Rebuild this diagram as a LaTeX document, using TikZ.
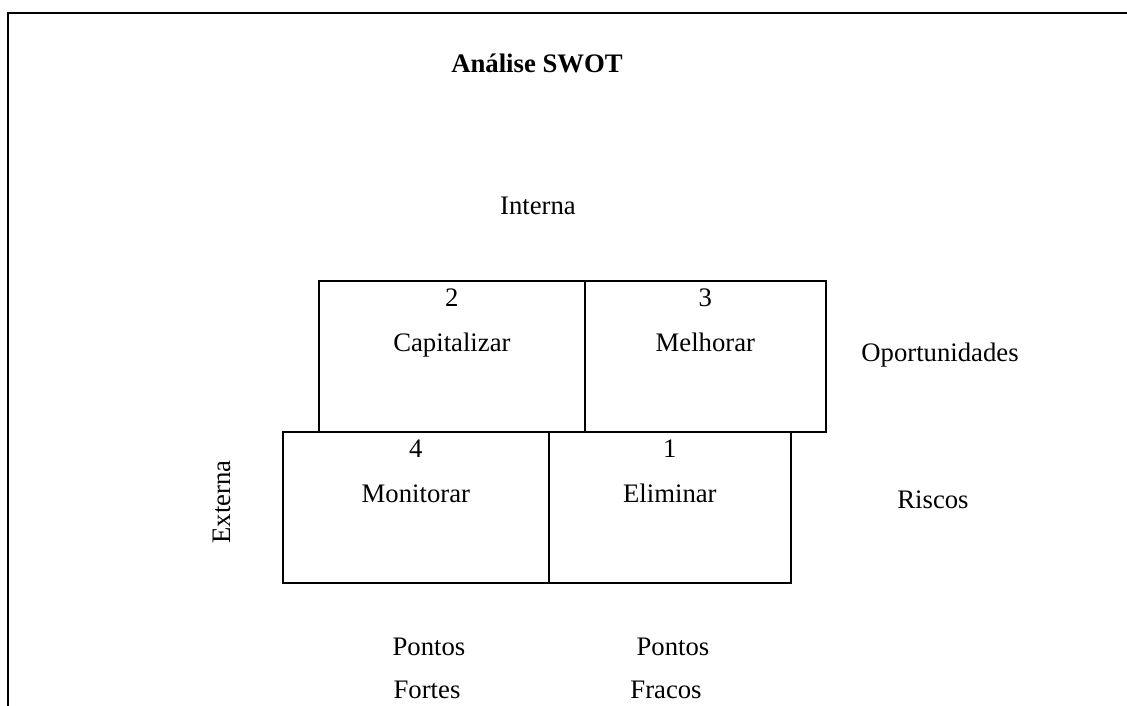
\documentclass[tikz,border=0pt]{standalone}
\usepackage{fontspec}
\setmainfont{Liberation Serif}
\usepackage{tikz}
\usetikzlibrary{positioning}

\begin{document}
\begin{tikzpicture}[
	font = \fontsize{15.2}{18}\selectfont,
	quad/.style = {draw, line width = 1pt, inner sep = 0pt, anchor = north west, minimum height = 3.02cm},
	txt/.style = {anchor = base, inner sep = 0pt}
	]
	\useasboundingbox (0, 0) rectangle (22.54, 14.12);
	\draw[line width = 1.4pt] (0.16, 0) -- (0.16, 13.86) -- (22.54, 13.86);

	\node[quad, minimum width = 5.32cm] (q2) at (6.36, 8.52) {};
	\node[quad, minimum width = 4.82cm] (q3) at (11.68, 8.52) {};
	\node[quad, minimum width = 5.32cm] (q4) at (5.64, 5.5) {};
	\node[quad, minimum width = 4.84cm] (q1) at (10.96, 5.5) {};

	\node[txt] (n2) at ([yshift = -0.53cm] q2.north) {2};
	\node[txt] (l2) at ([yshift = -1.44cm] q2.north) {Capitalizar};
	\node[txt] (n3) at ([yshift = -0.53cm] q3.north) {3};
	\node[txt] (l3) at ([yshift = -1.44cm] q3.north) {Melhorar};
	\node[txt] (n4) at ([yshift = -0.53cm] q4.north) {4};
	\node[txt] (l4) at ([yshift = -1.44cm] q4.north) {Monitorar};
	\node[txt] (n1) at ([yshift = -0.53cm] q1.north) {1};
	\node[txt] (l1) at ([yshift = -1.44cm] q1.north) {Eliminar};

	\node[txt] (title) at (10.74, 12.66) {\bfseries Análise SWOT};
	\node[txt] (interna) at (10.76, 9.82) {Interna};
	\node[txt] (oport) at (18.8, 6.88) {Oportunidades};
	\node[txt] (riscos) at (18.66, 3.94) {Riscos};
	\node[rotate = 90] (externa) at (4.44, 4.08) {Externa};

	\node[txt] (pf1) at (8.58, 1.0) {Pontos};
	\node[txt] (pf2) at (8.54, 0.14) {Fortes};
	\node[txt] (pw1) at (13.46, 1.0) {Pontos};
	\node[txt] (pw2) at (13.32, 0.14) {Fracos};

\end{tikzpicture}
\end{document}
